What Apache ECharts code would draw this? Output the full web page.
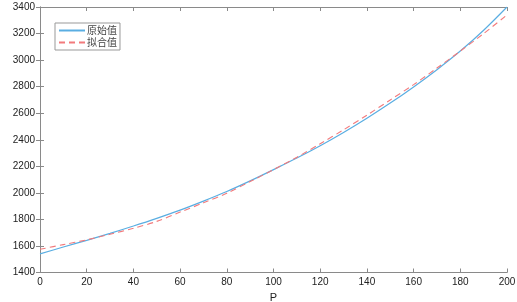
<!DOCTYPE html>
<html>
<head>
<meta charset="utf-8">
<script src="https://cdn.jsdelivr.net/npm/echarts@6/dist/echarts.min.js"></script>
<style>
html,body{margin:0;padding:0;background:#fff;}
#c{width:517px;height:302px;}
</style>
</head>
<body>
<div id="c"></div>
<script>
var pValues = [0,10,20,30,40,50,60,70,80,90,100,110,120,130,140,150,160,170,180,190,200];
var originalE = [1540,1592,1642,1695,1750,1808,1870,1938,2010,2090,2175,2262,2355,2455,2562,2676,2798,2928,3068,3225,3400];
var fittedE = [1575,1610,1646,1688,1733,1785,1855,1925,1997,2085,2175,2268,2370,2475,2585,2700,2815,2940,3068,3200,3340];
var seriesNames = ['原始值','拟合值'];
var xTitle = 'P';
var yTitle = 'E';

function pairs(xs, ys){ return xs.map(function(x,i){ return [x, ys[i]]; }); }
function plain(v){ return String(v); }

var axisCol = '#8a8a8a';
var font = 'Liberation Sans, Arial, sans-serif';
var chart = echarts.init(document.getElementById('c'), null, {renderer:'canvas'});
var base = {
  axisLine:{show:true, lineStyle:{color:axisCol, width:1}},
  axisTick:{show:true, inside:true, length:4, lineStyle:{color:axisCol}},
  splitLine:{show:false}
};
chart.setOption({
  animation:false,
  backgroundColor:'#fff',
  grid:{left:40, right:10, top:7, bottom:29.5, containLabel:false, outerBoundsMode:'none'},
  legend:{
    show:true, left:55, top:23, orient:'vertical',
    data:seriesNames,
    itemWidth:26, itemHeight:6, itemGap:1,
    padding:[2,3,2,3],
    itemStyle:{opacity:0},
    borderColor:'#999', borderWidth:1, backgroundColor:'#fff',
    textStyle:{fontFamily:'Noto Sans CJK SC, sans-serif', fontSize:10, lineHeight:11, color:'#444', padding:[0,0,0,-3]}
  },
  xAxis:[
    Object.assign({type:'value', min:0, max:200, interval:20, position:'bottom',
      name:xTitle, nameLocation:'middle', nameGap:16,
      nameTextStyle:{fontFamily:font, fontSize:11, color:'#222'},
      axisLabel:{fontFamily:font, fontSize:10, color:'#222', margin:5, formatter:plain}}, base),
    Object.assign({type:'value', min:0, max:200, interval:20, position:'top',
      axisLabel:{show:false}}, base)
  ],
  yAxis:[
    Object.assign({type:'value', min:1400, max:3400, interval:200, position:'left',
      name:yTitle, nameLocation:'middle', nameGap:30, nameRotate:90,
      nameTextStyle:{fontFamily:font, fontSize:11, color:'#222'},
      axisLabel:{fontFamily:font, fontSize:10, color:'#222', margin:5, formatter:plain}}, base),
    Object.assign({type:'value', min:1400, max:3400, interval:200, position:'right',
      axisLabel:{show:false}}, base)
  ],
  series:[
    {name:seriesNames[0], type:'line', data:pairs(pValues, originalE), symbol:'none', showSymbol:false,
     smooth:0.3, lineStyle:{color:'#5aaee2', width:1.2}, itemStyle:{color:'#5aaee2'}},
    {name:seriesNames[1], type:'line', data:pairs(pValues, fittedE), symbol:'none', showSymbol:false,
     smooth:0.3, lineStyle:{color:'#f27a7c', width:1.1, type:[6,4]}, itemStyle:{color:'#f27a7c'}}
  ]
});
</script>
</body>
</html>
